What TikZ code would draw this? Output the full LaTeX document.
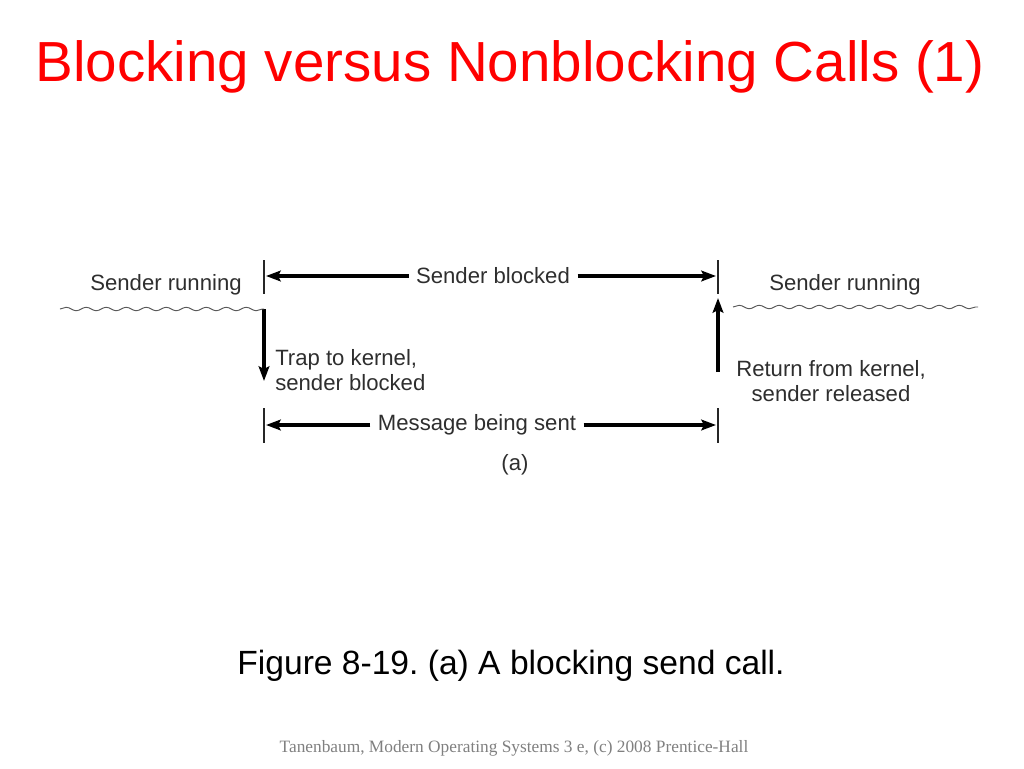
\documentclass[tikz,border=0pt]{standalone}
\usepackage{fontspec}
\setmainfont{Liberation Sans}
\newfontfamily\footfont{Liberation Serif}
\usetikzlibrary{arrows.meta, decorations.pathmorphing}
\frenchspacing

\begin{document}
\begin{tikzpicture}[x=0.75pt, y=-0.75pt,
        lbl/.style={text=black!82, font=\fontsize{16.6}{19}\selectfont, inner sep=3pt},
        gap/.style={lbl, inner xsep=5.5pt},
        tick/.style={draw=black!85, line width=0.8pt},
        fat/.style={draw=black, line width=2.6pt, -{Stealth[length=11pt, width=8pt, inset=2pt]}},
        wave/.style={draw=black!65, line width=0.7pt, decorate,
            decoration={snake, segment length=15pt, amplitude=1.3pt}}]
    \useasboundingbox (0,0) rectangle (1024,768);
    \node (title) [text=red, font=\fontsize{42.4}{50}\selectfont] at (510,67) {Blocking versus Nonblocking Calls (1)};

    \coordinate (tl) at (264,276);
    \coordinate (tr) at (718,276);
    \coordinate (bl) at (264,425);
    \coordinate (br) at (718,425);
    \coordinate (drop) at (264,309);
    \coordinate (trap) at (264,381);
    \coordinate (ret) at (718,372);
    \coordinate (up) at (718,298);
    \coordinate (wl) at (60,309);
    \coordinate (wr1) at (733,307);
    \coordinate (wr2) at (978,307);

    \draw[tick] (264,260) -- (264,294) (718,260) -- (718,294)
        (264,408) -- (264,443) (718,408) -- (718,443);

    \node (runl) [lbl] at (166,285) {Sender running};
    \node (runr) [lbl] at (845,285) {Sender running};
    \node (blocked) [gap] at (493,276) {Sender blocked};
    \node (msg) [gap] at (477,425) {Message being sent};
    \node (trapt) [lbl, anchor=west, align=left] at (271,370) {Trap to kernel,\\sender blocked};
    \node (rett) [lbl, align=center] at (831,381) {Return from kernel,\\sender released};
    \node (sub) [lbl] at (515,465) {(a)};

    \draw[fat] (blocked.west) -- ([xshift=1.5pt]tl |- blocked.west);
    \draw[fat] (blocked.east) -- ([xshift=-1.5pt]tr |- blocked.east);
    \draw[fat] (msg.west) -- ([xshift=1.5pt]bl |- msg.west);
    \draw[fat] (msg.east) -- ([xshift=-1.5pt]br |- msg.east);
    \draw[fat] (drop) -- (trap);
    \draw[fat] (ret) -- (up);
    \draw[wave] (wl) -- (drop);
    \draw[wave] (wr1) -- (wr2);

    \node (caption) [font=\fontsize{25.2}{30}\selectfont] at (511,666) {Figure 8-19. (a) A blocking send call.};
    \node (foot) [text=black!50, font=\footfont\fontsize{13}{15}\selectfont] at (514,748) {Tanenbaum, Modern Operating Systems 3 e, (c) 2008 Prentice-Hall};
\end{tikzpicture}
\end{document}
